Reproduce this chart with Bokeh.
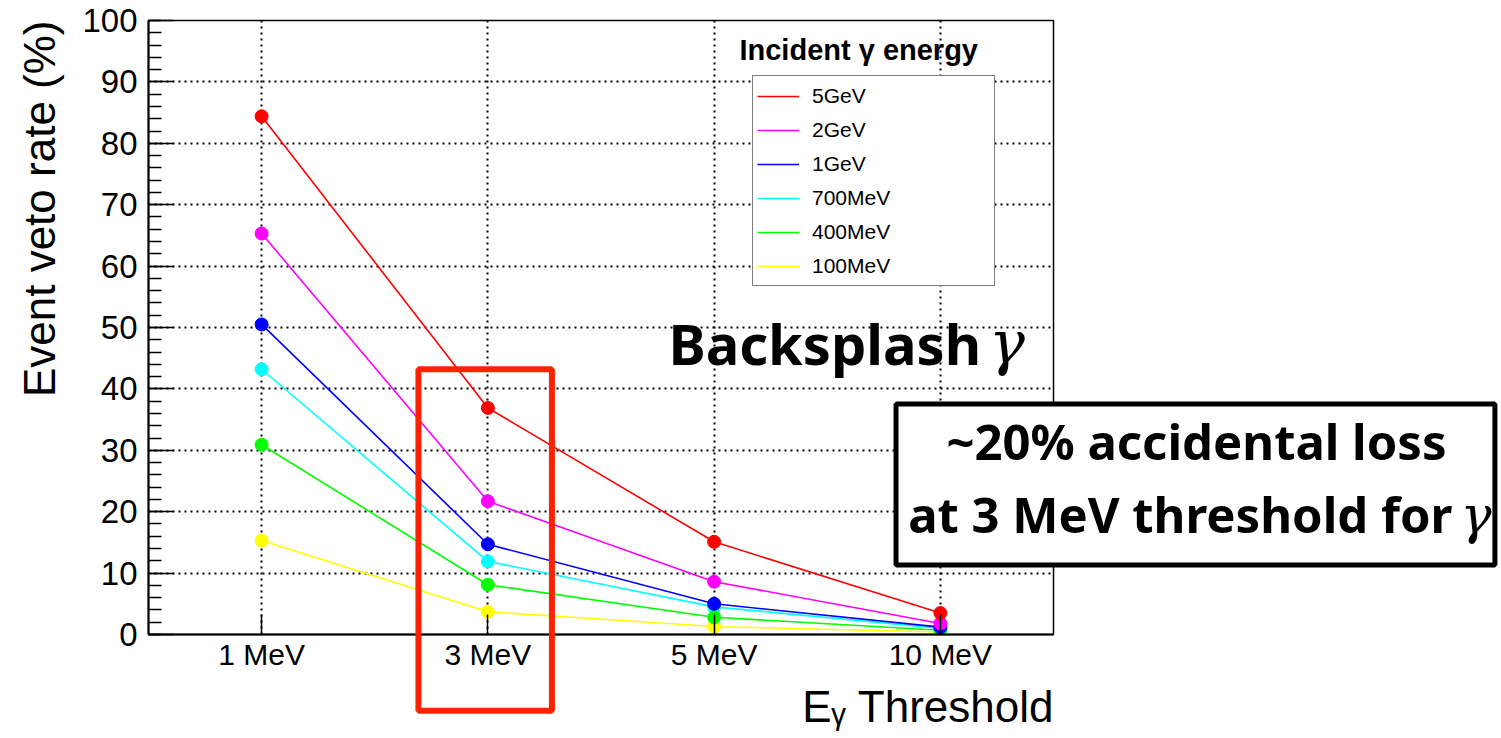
import math

from bokeh.embed import file_html
from bokeh.models import (FixedTicker, Label, Legend, LegendItem, Range1d,
                          SingleIntervalTicker)
from bokeh.plotting import figure
from bokeh.resources import INLINE

# Photon-energy threshold categories (x axis)
thresholds = ["1 MeV", "3 MeV", "5 MeV", "10 MeV"]

# Event veto rate (%) per incident photon energy
energies = ["5GeV", "2GeV", "1GeV", "700MeV", "400MeV", "100MeV"]
veto_5gev = [84.4, 36.9, 15.1, 3.5]
veto_2gev = [65.3, 21.7, 8.6, 1.8]
veto_1gev = [50.5, 14.7, 5.0, 1.2]
veto_700mev = [43.2, 11.9, 4.5, 1.0]
veto_400mev = [30.9, 8.1, 2.8, 0.7]
veto_100mev = [15.3, 3.7, 1.3, 0.4]
series_colors = ["#ff0000", "#ff00ff", "#0000ff", "#00ffff", "#00ff00", "#ffff00"]

highlighted = "3 MeV"

FONT = "Liberation Sans"
ANNOT_FONT = "Noto Sans"
GREEK_FONT = "DejaVu Serif"

# canvas / frame geometry in pixels
W, H = 1501, 738
LEFT, RIGHT, TOP, BOTTOM = 148, 448, 20, 104

x_pos = list(range(len(thresholds)))
x_lo, x_hi = -0.5, len(thresholds) - 0.5
y_lo, y_hi = 0.0, 100.0

p = figure(
    width=W, height=H, output_backend="svg", toolbar_location=None, title=None,
    x_range=Range1d(x_lo, x_hi), y_range=Range1d(y_lo, y_hi),
    min_border_left=LEFT, min_border_right=RIGHT, min_border_top=TOP, min_border_bottom=BOTTOM,
    background_fill_color="white", border_fill_color="white",
)
p.outline_line_color = "black"
p.outline_line_width = 1.5

# x axis: one tick per threshold, ticks pointing into the frame
xa = p.xaxis[0]
xa.ticker = FixedTicker(ticks=x_pos, minor_ticks=[])
xa.major_label_overrides = {i: t for i, t in enumerate(thresholds)}
xa.major_tick_in = 20
xa.major_tick_out = 0
xa.minor_tick_line_color = None
xa.axis_line_width = 2
xa.major_tick_line_width = 1.5
xa.major_label_text_font = FONT
xa.major_label_text_font_size = "30px"
xa.major_label_text_color = "black"
xa.major_label_standoff = 3

# y axis: 0..100 with 4 minor ticks between majors
ya = p.yaxis[0]
ya.ticker = SingleIntervalTicker(interval=10, num_minor_ticks=5)
ya.major_tick_in = 25
ya.major_tick_out = 0
ya.minor_tick_in = 13
ya.minor_tick_out = 0
ya.axis_line_width = 2
ya.major_tick_line_width = 1.5
ya.minor_tick_line_width = 1.5
ya.major_label_text_font = FONT
ya.major_label_text_font_size = "33px"
ya.major_label_text_color = "black"
ya.major_label_standoff = 11

# dotted grid
for g in (p.xgrid[0], p.ygrid[0]):
    g.grid_line_color = "black"
    g.grid_line_dash = "2 4"
    g.grid_line_width = 2
p.xgrid[0].ticker = xa.ticker
p.ygrid[0].ticker = ya.ticker

series = {
    "5GeV": veto_5gev,
    "2GeV": veto_2gev,
    "1GeV": veto_1gev,
    "700MeV": veto_700mev,
    "400MeV": veto_400mev,
    "100MeV": veto_100mev,
}
color_of = dict(zip(energies, series_colors))

line_renderers = {}
for name in ["100MeV", "700MeV", "400MeV", "1GeV", "2GeV", "5GeV"]:
    c = color_of[name]
    line_renderers[name] = p.line(x_pos, series[name], line_color=c, line_width=1.6)
    p.scatter(x_pos, series[name], size=13, fill_color=c, line_color=c)

legend = Legend(
    items=[LegendItem(label=n, renderers=[line_renderers[n]]) for n in energies],
    location=(604, 348), orientation="vertical",
    border_line_color="black", border_line_width=1.5,
    background_fill_color="white", background_fill_alpha=1.0,
    label_text_font=FONT, label_text_font_size="21px", label_text_color="black",
    glyph_width=42, glyph_height=20, label_standoff=13,
    label_width=178, label_height=31, spacing=3, padding=4, margin=0,
)
p.add_layout(legend)

p.add_layout(Label(x=2.112, y=95.2, text="Incident γ energy", text_font=FONT,
                   text_font_style="bold", text_font_size="29px", text_color="black",
                   text_baseline="alphabetic"))

p.add_layout(Label(x=1.798, y=47.4, text="Backsplash", text_font=ANNOT_FONT,
                   text_font_style="bold", text_font_size="56px", text_color="black",
                   text_baseline="alphabetic"))
p.add_layout(Label(x=3.215, y=47.5, text="γ", text_font=GREEK_FONT,
                   text_font_style="italic", text_font_size="60px", text_color="black",
                   text_baseline="alphabetic"))

# Transparent layer spanning the whole canvas, sharing the same data mapping,
# for the annotations that extend past the frame.
px_per_x = (W - LEFT - RIGHT) / (x_hi - x_lo)
px_per_y = (H - TOP - BOTTOM) / (y_hi - y_lo)
ov = figure(
    width=W, height=H, output_backend="svg", toolbar_location=None, title=None,
    x_range=Range1d(x_lo - LEFT / px_per_x, x_hi + RIGHT / px_per_x),
    y_range=Range1d(y_lo - BOTTOM / px_per_y, y_hi + TOP / px_per_y),
    x_axis_type=None, y_axis_type=None,
    min_border=0, min_border_left=0, min_border_right=0, min_border_top=0, min_border_bottom=0,
    background_fill_color=None, border_fill_color=None, outline_line_color=None,
    styles={"position": "absolute", "left": "0px", "top": "0px"},
)

# axis titles, aligned to the far end of each axis
ov.add_layout(Label(x=-0.98, y=y_hi, text="Event veto rate (%)", angle=math.pi / 2,
                    text_align="right", text_baseline="alphabetic", text_font=FONT,
                    text_font_size="44px", text_color="black"))
ov.add_layout(Label(x=x_hi, y=-11.8, text="Eᵧ Threshold", text_align="right",
                    text_baseline="alphabetic", text_font=FONT, text_font_size="44px",
                    text_color="black"))

# highlight of the 3 MeV threshold
hx = thresholds.index(highlighted)
ov.quad(left=[hx - 0.307], right=[hx + 0.283], top=[43.2], bottom=[-12.4],
        fill_color=None, line_color="#ff2200", line_width=6)

# boxed remark
ov.quad(left=[2.804], right=[5.451], top=[37.54], bottom=[11.32],
        fill_color="white", line_color="black", line_width=5)
ov.add_layout(Label(x=4.132, y=31.5, text="~20% accidental loss",
                    text_align="center", text_baseline="alphabetic", text_font=ANNOT_FONT,
                    text_font_style="bold", text_font_size="49px", text_color="black"))
ov.add_layout(Label(x=5.2635, y=19.6, text="at 3 MeV threshold for",
                    text_align="right", text_baseline="alphabetic", text_font=ANNOT_FONT,
                    text_font_style="bold", text_font_size="49px", text_color="black"))
ov.add_layout(Label(x=5.299, y=19.4, text="γ",
                    text_align="left", text_baseline="alphabetic", text_font=GREEK_FONT,
                    text_font_style="italic", text_font_size="52px", text_color="black"))

open("out.html", "w").write(file_html([p, ov], INLINE))
